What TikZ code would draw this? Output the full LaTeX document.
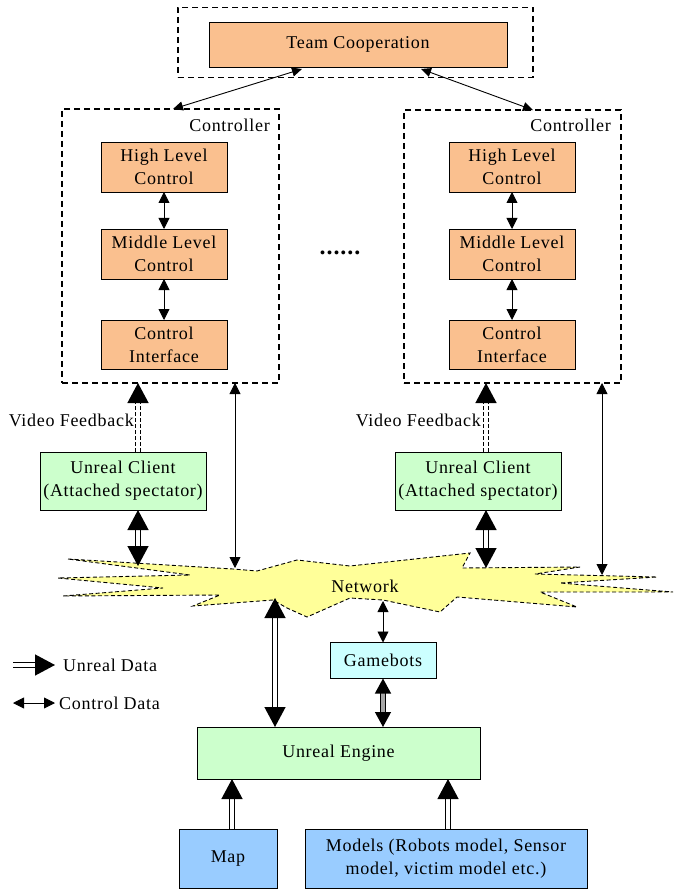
\documentclass[tikz,border=0pt]{standalone}
\usepackage{fontspec}
\setmainfont{Liberation Serif}[LetterSpace=4]
\usetikzlibrary{arrows.meta}
\definecolor{peach}{RGB}{250,192,143}
\definecolor{lgreen}{RGB}{204,255,204}
\definecolor{lcyan}{RGB}{204,255,255}
\definecolor{lblue}{RGB}{153,204,255}
\definecolor{netyellow}{RGB}{255,255,153}
\tikzset{
  box/.style={draw, line width=0.8pt, inner sep=0pt, outer sep=0pt, align=center},
  dashbox/.style={draw, line width=1.6pt, dash pattern=on 6pt off 4pt, inner sep=0pt, outer sep=0pt},
  ctl/.style={line width=0.9pt, arrows={Triangle[width=11pt,length=11pt]-Triangle[width=11pt,length=11pt]}},
  ctlsmall/.style={line width=0.9pt, arrows={Triangle[width=9pt,length=10pt]-Triangle[width=9pt,length=10pt]}},
  ureal/.style={double, double distance=3.5pt, line width=1.3pt},
  bigone/.style={arrows={-Triangle[width=21pt,length=20pt]}},
  bigtwo/.style={arrows={Triangle[width=21pt,length=20pt]-Triangle[width=21pt,length=20pt]}},
  midtwo/.style={arrows={Triangle[width=16pt,length=15pt]-Triangle[width=16pt,length=15pt]}},
}
\begin{document}
\begin{tikzpicture}[x=1pt, y=-1pt, font=\fontsize{18}{23}\selectfont]
\useasboundingbox (0,0) rectangle (680,890);

% team cooperation
\node[dashbox, minimum width=355pt, minimum height=70pt] (tcg) at (355.5,42.5) {};
\node[box, fill=peach, minimum width=298pt, minimum height=45pt] (tc) at (358,44.5) {Team Cooperation};

% controllers
\node[dashbox, minimum width=217pt, minimum height=274pt] (lc) at (170.5,246) {};
\node[dashbox, minimum width=217pt, minimum height=273pt] (rc) at (512.5,246.5) {};
\node[anchor=east, inner sep=0pt] (lcl) at (270,125) {Controller};
\node[anchor=east, inner sep=0pt] (rcl) at (611,125) {Controller};

\node[box, fill=peach, minimum width=126pt, minimum height=50pt] (lhl) at (164,167) {High Level\\Control};
\node[box, fill=peach, minimum width=126pt, minimum height=50pt] (lml) at (164,254) {Middle Level\\Control};
\node[box, fill=peach, minimum width=126pt, minimum height=49pt] (lci) at (164,344.5) {Control\\Interface};
\node[box, fill=peach, minimum width=126pt, minimum height=50pt] (rhl) at (512,167) {High Level\\Control};
\node[box, fill=peach, minimum width=126pt, minimum height=50pt] (rml) at (512,254) {Middle Level\\Control};
\node[box, fill=peach, minimum width=126pt, minimum height=49pt] (rci) at (512,344.5) {Control\\Interface};

\draw[ctl] (lhl) -- (lml);
\draw[ctl] (lml) -- (lci);
\draw[ctl] (rhl) -- (rml);
\draw[ctl] (rml) -- (rci);

\node[font=\fontsize{24}{24}\selectfont\bfseries] (dots) at (340,253) {......};

% team arrows
\coordinate (tcl) at (302,69);
\coordinate (tcr) at (421,69);
\coordinate (lctop) at (173,109);
\coordinate (rctop) at (533,110);
\draw[ctlsmall] (tcl) -- (lctop);
\draw[ctlsmall] (tcr) -- (rctop);

% unreal clients
\node[box, fill=lgreen, minimum width=166pt, minimum height=58pt] (luc) at (123,481) {Unreal Client\\(Attached spectator)};
\node[box, fill=lgreen, minimum width=166pt, minimum height=58pt] (ruc) at (478,481) {Unreal Client\\(Attached spectator)};

\node[anchor=east, inner sep=0pt] (lvf) at (134,420) {Video Feedback};
\node[anchor=east, inner sep=0pt] (rvf) at (481,420) {Video Feedback};

\coordinate (lvs) at (138,452);
\coordinate (lve) at (138,383);
\coordinate (rvs) at (486,452);
\coordinate (rve) at (486,383);
\draw[ureal, dash pattern=on 4pt off 2pt, bigone] (lvs) -- (lve);
\draw[ureal, dash pattern=on 4pt off 2pt, bigone] (rvs) -- (rve);

% network
\draw[fill=netyellow, line width=0.9pt, dash pattern=on 4pt off 2.5pt]
  (68,559) -- (233,569) -- (257,571) -- (297,560) -- (350,566) -- (470,553)
  -- (462,568) -- (580,567) -- (535,574) -- (657,577) -- (560,583) -- (673,592)
  -- (540,592) -- (577,607) -- (457,597) -- (440,612) -- (383,600) -- (350,598)
  -- (307,617) -- (287,608) -- (273,600) -- (193,606) -- (220,595) -- (63,596)
  -- (163,588) -- (58,578) -- (190,575) -- cycle;
\node (net) at (365,586) {Network};

\coordinate (lucb) at (138,510);
\coordinate (netl) at (138,566);
\coordinate (lcb) at (235,383);
\coordinate (netl2) at (235,568);
\coordinate (rucb) at (486,510);
\coordinate (netr) at (486,568);
\coordinate (rcb) at (602,383);
\coordinate (netr2) at (602,575);
\draw[ureal, bigtwo] (lucb) -- (netl);
\draw[ctl] (lcb) -- (netl2);
\draw[ureal, bigtwo] (rucb) -- (netr);
\draw[ctl] (rcb) -- (netr2);

% lower part
\node[box, fill=lcyan, minimum width=106pt, minimum height=36pt] (gb) at (383,660.5) {Gamebots};
\node[box, fill=lgreen, minimum width=283pt, minimum height=52pt] (ue) at (338.5,753) {Unreal Engine};
\node[box, fill=lblue, minimum width=98pt, minimum height=59pt] (map) at (228,858.5) {Map};
\node[box, fill=lblue, minimum width=282pt, minimum height=59pt] (mod) at (446,858.5) {Models (Robots model, Sensor\\model, victim model etc.)};

\coordinate (netb) at (275,598);
\coordinate (uet) at (275,727);
\draw[ureal, bigtwo] (netb) -- (uet);
\coordinate (netg) at (383,601);
\draw[ctl] (netg) -- (gb.north);
\draw[ureal, double=gray!70, midtwo] (gb.south) -- (gb.south |- ue.north);
\draw[ureal, bigone] (map.north -| 232,0) -- (ue.south -| 232,0);
\draw[ureal, bigone] (mod.north -| 448,0) -- (ue.south -| 448,0);

% legend
\coordinate (lg1a) at (13,665);
\coordinate (lg1b) at (55,665);
\coordinate (lg2a) at (13,703);
\coordinate (lg2b) at (55,703);
\draw[ureal, bigone] (lg1a) -- (lg1b);
\draw[ctl] (lg2a) -- (lg2b);
\node[anchor=west, inner sep=0pt] (lgt1) at (63,665) {Unreal Data};
\node[anchor=west, inner sep=0pt] (lgt2) at (59,703) {Control Data};
\end{tikzpicture}
\end{document}
